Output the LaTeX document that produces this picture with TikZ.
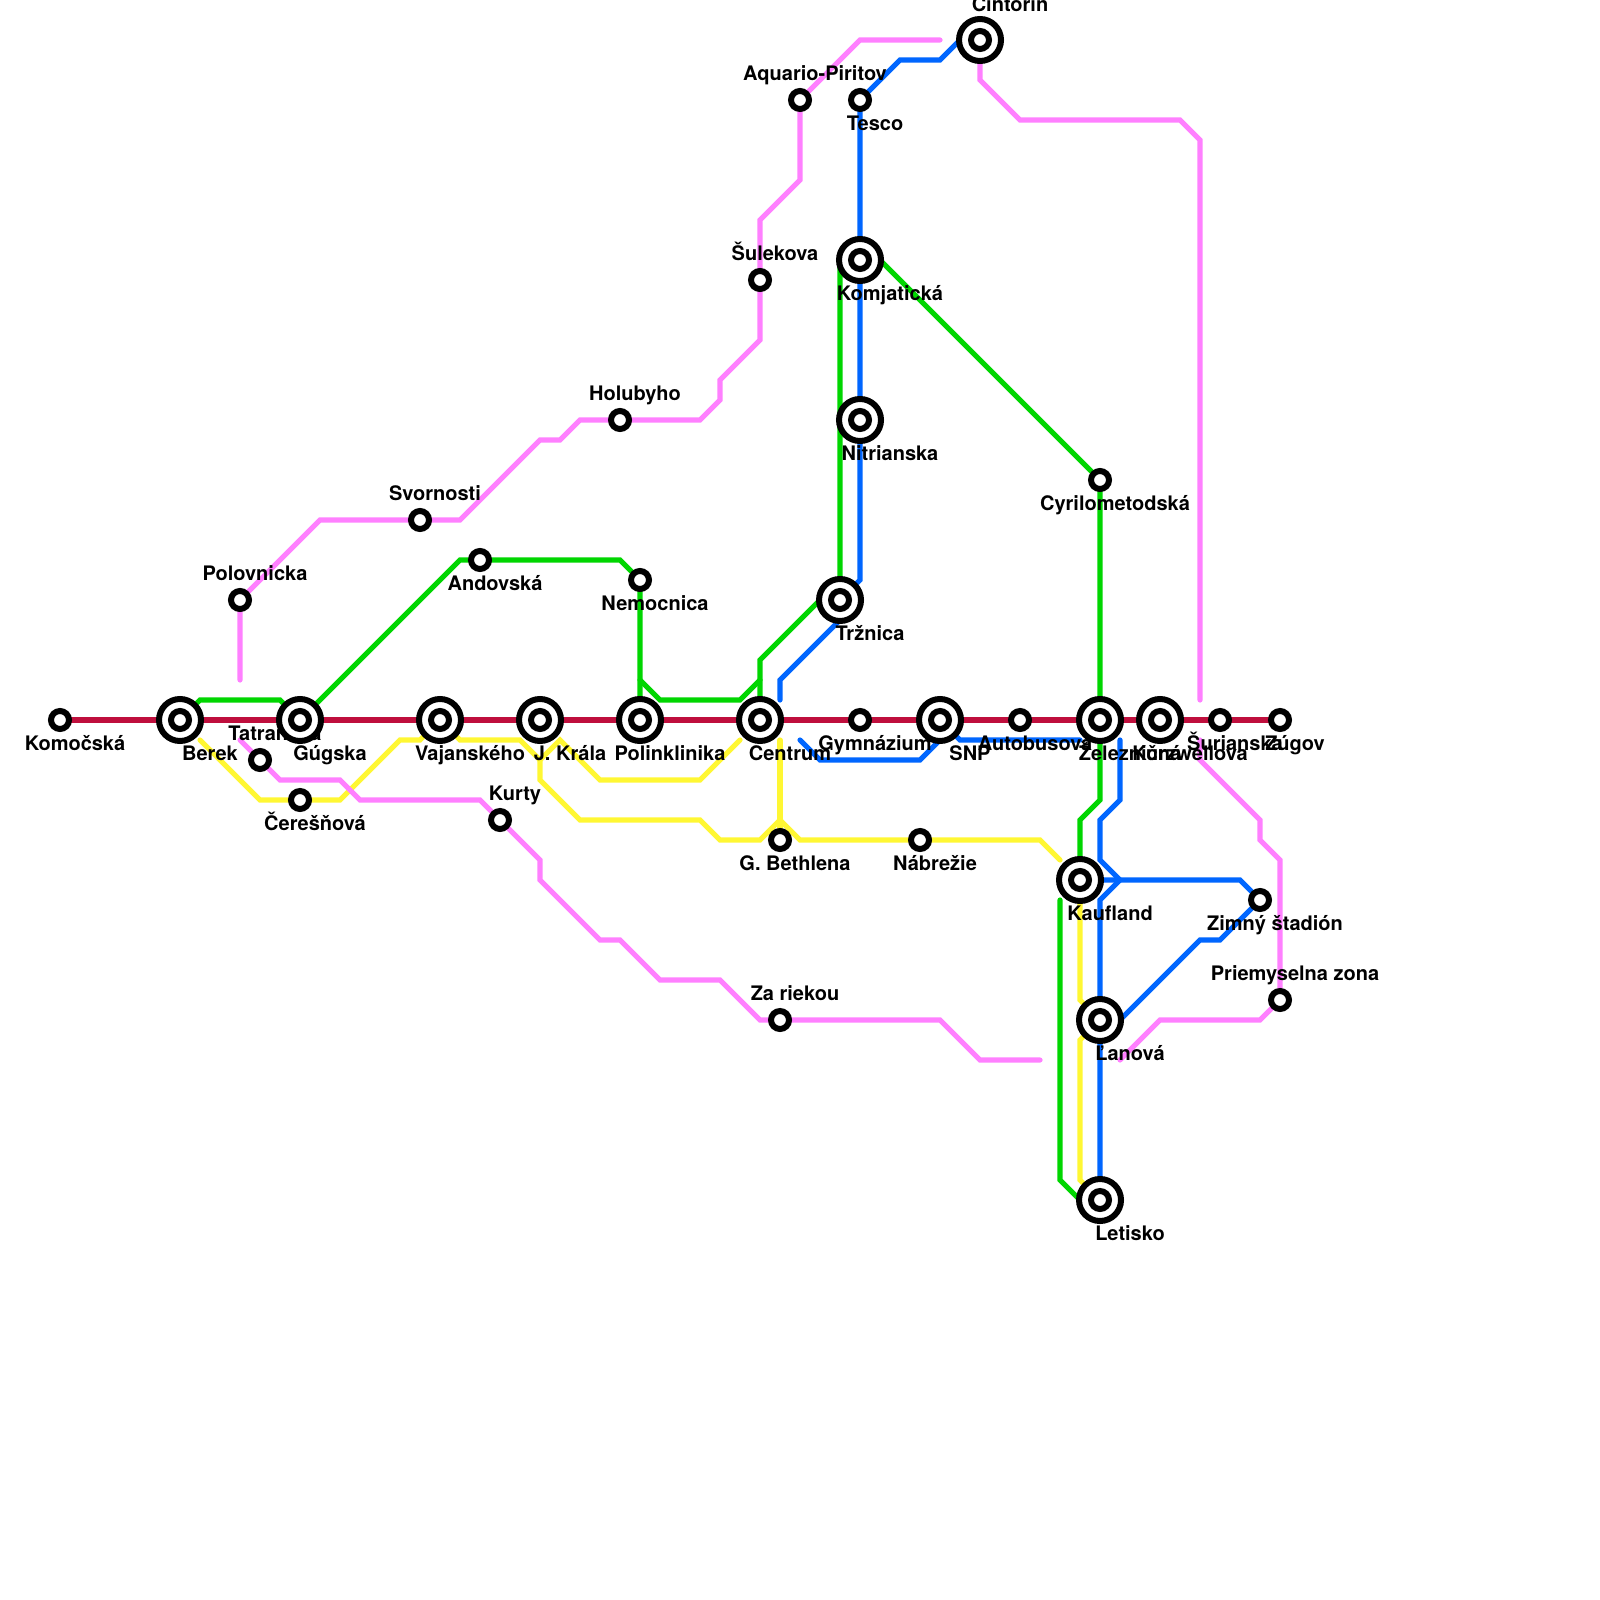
\documentclass[tikz,border=0pt]{standalone}
\usepackage{fontspec}
\setmainfont{TeX Gyre Heros}
\usetikzlibrary{calc}
\definecolor{redline}{rgb}{0.75,0.06,0.24}
\definecolor{greenline}{rgb}{0,0.84,0}
\definecolor{yellowline}{rgb}{1,0.97,0.2}
\definecolor{blueline}{rgb}{0,0.4,1}
\definecolor{pinkline}{rgb}{1,0.5,1}
\tikzset{
  metro/.style={line width=0.52mm,line cap=round,line join=miter},
  stopsmall/.style={circle,draw=black,fill=white,line width=0.6mm,minimum size=1.8mm,inner sep=0pt,outer sep=0pt},
  stopbig/.style={circle,draw=black,fill=white,line width=0.6mm,minimum size=4.2mm,inner sep=0pt,outer sep=0pt,
    path picture={\draw[line width=0.6mm] (path picture bounding box.center) circle (0.9mm);}},
  lab/.style={anchor=base,inner sep=0pt,font=\fontsize{5.69}{6}\selectfont\bfseries},
  labdown/.style={lab,xshift=1.5mm,yshift=-3.05mm},
  labup/.style={lab,xshift=1.5mm,yshift=1.95mm},
  labdownbig/.style={lab,xshift=3mm,yshift=-4.05mm},
  labupbig/.style={lab,xshift=3mm,yshift=2.85mm}
}
\begin{document}
\begin{tikzpicture}[x=2mm,y=-2mm]
            \useasboundingbox (0,0) rectangle (80,80);
            %Stations
            \coordinate (komocska) at (3,36);
            \coordinate (berek) at (9,36);
            \coordinate (gugska) at (15,36);
            \coordinate (vajanskeho) at (22,36);
            \coordinate (jkrala) at (27,36);
            \coordinate (polinklinika) at (32,36);
            \coordinate (centrum) at (38,36);
            \coordinate (gymnazium) at (43,36);
            \coordinate (snp) at (47,36);
            \coordinate (autobusova) at (51,36);
            \coordinate (zeleznicna) at (55,36);
            \coordinate (kurzwellova) at (58,36);
            \coordinate (surianska) at (61,36);
            \coordinate (zugov) at (64,36);
            \coordinate (andovska) at (24,28);
            \coordinate (nemocnica) at (32,29);
            \coordinate (polovnicka) at (12,30);
            \coordinate (svornosti) at (21,26);
            \coordinate (holubyho) at (31,21);
            \coordinate (sulekova) at (38,14);
            \coordinate (aquario) at (40,5);
            \coordinate (tesco) at (43,5);
            \coordinate (cintorin) at (49,2);
            \coordinate (komjaticka) at (43,13);
            \coordinate (nitrianska) at (43,21);
            \coordinate (trznica) at (42,30);
            \coordinate (cyrilometodska) at (55,24);
            \coordinate (tatranska) at (13,38);
            \coordinate (ceresnova) at (15,40);
            \coordinate (kurty) at (25,41);
            \coordinate (bethlena) at (39,42);
            \coordinate (nabrezie) at (46,42);
            \coordinate (kaufland) at (54,44);
            \coordinate (zimny) at (63,45);
            \coordinate (priemyselna) at (64,50);
            \coordinate (lanova) at (55,51);
            \coordinate (letisko) at (55,60);
            \coordinate (zariekou) at (39,51);
            %Free ends
            \coordinate (e1) at (53,45);
            \coordinate (e2) at (10,37);
            \coordinate (e3) at (37,37);
            \coordinate (e4) at (53,43);
            \coordinate (e5) at (39,37);
            \coordinate (e6) at (39,35);
            \coordinate (e7) at (40,37);
            \coordinate (e8) at (54,37);
            \coordinate (e9) at (56,37);
            \coordinate (e10) at (12,34);
            \coordinate (e11) at (47,2);
            \coordinate (e12) at (12,37);
            \coordinate (e13) at (52,53);
            \coordinate (e14) at (60,35);
            \coordinate (e15) at (60,37);
            \coordinate (e16) at (56,53);
            %Red
            \draw[metro,redline] (komocska) -- (zugov);
            %Green
            \draw[metro,greenline] (berek) -- (10,35) -- (14,35) -- (gugska) -- (23,28) -- (andovska) -- (31,28) -- (nemocnica) -- (polinklinika);
            \draw[metro,greenline] (32,34) -- (33,35) -- (37,35) -- (38,34);
            \draw[metro,greenline] (centrum) -- (38,33) -- (41,30) -- (trznica) -- (42,13) -- (komjaticka) -- (44,13) -- (cyrilometodska) -- (55,40) -- (54,41) -- (kaufland);
            \draw[metro,greenline] (e1) -- (53,59) -- (54,60) -- (letisko);
            %Yellow
            \draw[metro,yellowline] (e2) -- (13,40) -- (ceresnova) -- (17,40) -- (20,37) -- (21,37) -- (vajanskeho) -- (23,37) -- (26,37) -- (27,38) -- (28,37) -- (30,39) -- (35,39) -- (e3);
            \draw[metro,yellowline] (27,38) -- (27,39) -- (29,41) -- (35,41) -- (36,42) -- (38,42) -- (39,41) -- (40,42) -- (nabrezie) -- (52,42) -- (e4);
            \draw[metro,yellowline] (e5) -- (bethlena);
            \draw[metro,yellowline] (kaufland) -- (54,50) -- (lanova) -- (54,52) -- (54,59) -- (letisko);
            %Blue
            \draw[metro,blueline] (cintorin) -- (48,2) -- (47,3) -- (45,3) -- (tesco) -- (komjaticka) -- (nitrianska) -- (43,29) -- (trznica) -- (42,31) -- (39,34) -- (e6);
            \draw[metro,blueline] (e7) -- (41,38) -- (46,38) -- (47,37) -- (snp) -- (48,37) -- (e8);
            \draw[metro,blueline] (e9) -- (56,40) -- (55,41) -- (55,43) -- (56,44) -- (55,45) -- (lanova) -- (letisko);
            \draw[metro,blueline] (kaufland) -- (56,44) -- (62,44) -- (zimny) -- (61,47) -- (60,47) -- (56,51) -- (lanova);
            %Pink
            \draw[metro,pinkline] (e10) -- (polovnicka) -- (16,26) -- (svornosti) -- (23,26) -- (27,22) -- (28,22) -- (29,21) -- (holubyho) -- (35,21) -- (36,20) -- (36,19) -- (38,17) -- (sulekova) -- (38,11) -- (40,9) -- (aquario) -- (43,2) -- (e11);
            \draw[metro,pinkline] (e12) -- (tatranska) -- (14,39) -- (17,39) -- (18,40) -- (24,40) -- (kurty) -- (27,43) -- (27,44) -- (30,47) -- (31,47) -- (33,49) -- (36,49) -- (38,51) -- (zariekou) -- (47,51) -- (49,53) -- (e13);
            \draw[metro,pinkline] (cintorin) -- (49,4) -- (51,6) -- (59,6) -- (60,7) -- (e14);
            \draw[metro,pinkline] (e15) -- (60,38) -- (63,41) -- (63,42) -- (64,43) -- (priemyselna) -- (63,51) -- (58,51) -- (e16);
            %Labels
            \node[labdown] (lkomocska) at (komocska) {Komočská};
            \node[labdownbig] (lberek) at (berek) {Berek};
            \node[labdownbig] (lgugska) at (gugska) {Gúgska};
            \node[labdownbig] (lvajanskeho) at (vajanskeho) {Vajanského};
            \node[labdownbig] (ljkrala) at (jkrala) {J. Krála};
            \node[labdownbig] (lpolinklinika) at (polinklinika) {Polinklinika};
            \node[labdownbig] (lcentrum) at (centrum) {Centrum};
            \node[labdown] (lgymnazium) at (gymnazium) {Gymnázium};
            \node[labdownbig] (lsnp) at (snp) {SNP};
            \node[labdown] (lautobusova) at (autobusova) {Autobusová};
            \node[labdownbig] (lzeleznicna) at (zeleznicna) {Železničná};
            \node[labdownbig] (lkurzwellova) at (kurzwellova) {Kurzwellova};
            \node[labdown] (lsurianska) at (surianska) {Šurianska};
            \node[labdown] (lzugov) at (zugov) {Zúgov};
            \node[labdown] (landovska) at (andovska) {Andovská};
            \node[labdown] (lnemocnica) at (nemocnica) {Nemocnica};
            \node[labup] (lpolovnicka) at (polovnicka) {Polovnicka};
            \node[labup] (lsvornosti) at (svornosti) {Svornosti};
            \node[labup] (lholubyho) at (holubyho) {Holubyho};
            \node[labup] (lsulekova) at (sulekova) {Šulekova};
            \node[labup] (laquario) at (aquario) {Aquario-Piritov};
            \node[labdown] (ltesco) at (tesco) {Tesco};
            \node[labupbig] (lcintorin) at (cintorin) {Cintorín};
            \node[labdownbig] (lkomjaticka) at (komjaticka) {Komjatická};
            \node[labdownbig] (lnitrianska) at (nitrianska) {Nitrianska};
            \node[labdownbig] (ltrznica) at (trznica) {Tržnica};
            \node[labdown] (lcyrilometodska) at (cyrilometodska) {Cyrilometodská};
            \node[labup] (ltatranska) at (tatranska) {Tatranská};
            \node[labdown] (lceresnova) at (ceresnova) {Čerešňová};
            \node[labup] (lkurty) at (kurty) {Kurty};
            \node[labdown] (lbethlena) at (bethlena) {G. Bethlena};
            \node[labdown] (lnabrezie) at (nabrezie) {Nábrežie};
            \node[labdownbig] (lkaufland) at (kaufland) {Kaufland};
            \node[labdown] (lzimny) at (zimny) {Zimný štadión};
            \node[labup] (lpriemyselna) at (priemyselna) {Priemyselna zona};
            \node[labdownbig] (llanova) at (lanova) {Ľanová};
            \node[labdownbig] (lletisko) at (letisko) {Letisko};
            \node[labup] (lzariekou) at (zariekou) {Za riekou};
            %Stops
            \node[stopsmall] (skomocska) at (komocska) {};
            \node[stopbig] (sberek) at (berek) {};
            \node[stopbig] (sgugska) at (gugska) {};
            \node[stopbig] (svajanskeho) at (vajanskeho) {};
            \node[stopbig] (sjkrala) at (jkrala) {};
            \node[stopbig] (spolinklinika) at (polinklinika) {};
            \node[stopbig] (scentrum) at (centrum) {};
            \node[stopsmall] (sgymnazium) at (gymnazium) {};
            \node[stopbig] (ssnp) at (snp) {};
            \node[stopsmall] (sautobusova) at (autobusova) {};
            \node[stopbig] (szeleznicna) at (zeleznicna) {};
            \node[stopbig] (skurzwellova) at (kurzwellova) {};
            \node[stopsmall] (ssurianska) at (surianska) {};
            \node[stopsmall] (szugov) at (zugov) {};
            \node[stopsmall] (sandovska) at (andovska) {};
            \node[stopsmall] (snemocnica) at (nemocnica) {};
            \node[stopsmall] (spolovnicka) at (polovnicka) {};
            \node[stopsmall] (ssvornosti) at (svornosti) {};
            \node[stopsmall] (sholubyho) at (holubyho) {};
            \node[stopsmall] (ssulekova) at (sulekova) {};
            \node[stopsmall] (saquario) at (aquario) {};
            \node[stopsmall] (stesco) at (tesco) {};
            \node[stopbig] (scintorin) at (cintorin) {};
            \node[stopbig] (skomjaticka) at (komjaticka) {};
            \node[stopbig] (snitrianska) at (nitrianska) {};
            \node[stopbig] (strznica) at (trznica) {};
            \node[stopsmall] (scyrilometodska) at (cyrilometodska) {};
            \node[stopsmall] (statranska) at (tatranska) {};
            \node[stopsmall] (sceresnova) at (ceresnova) {};
            \node[stopsmall] (skurty) at (kurty) {};
            \node[stopsmall] (sbethlena) at (bethlena) {};
            \node[stopsmall] (snabrezie) at (nabrezie) {};
            \node[stopbig] (skaufland) at (kaufland) {};
            \node[stopsmall] (szimny) at (zimny) {};
            \node[stopsmall] (spriemyselna) at (priemyselna) {};
            \node[stopbig] (slanova) at (lanova) {};
            \node[stopbig] (sletisko) at (letisko) {};
            \node[stopsmall] (szariekou) at (zariekou) {};
\end{tikzpicture}
\end{document}
